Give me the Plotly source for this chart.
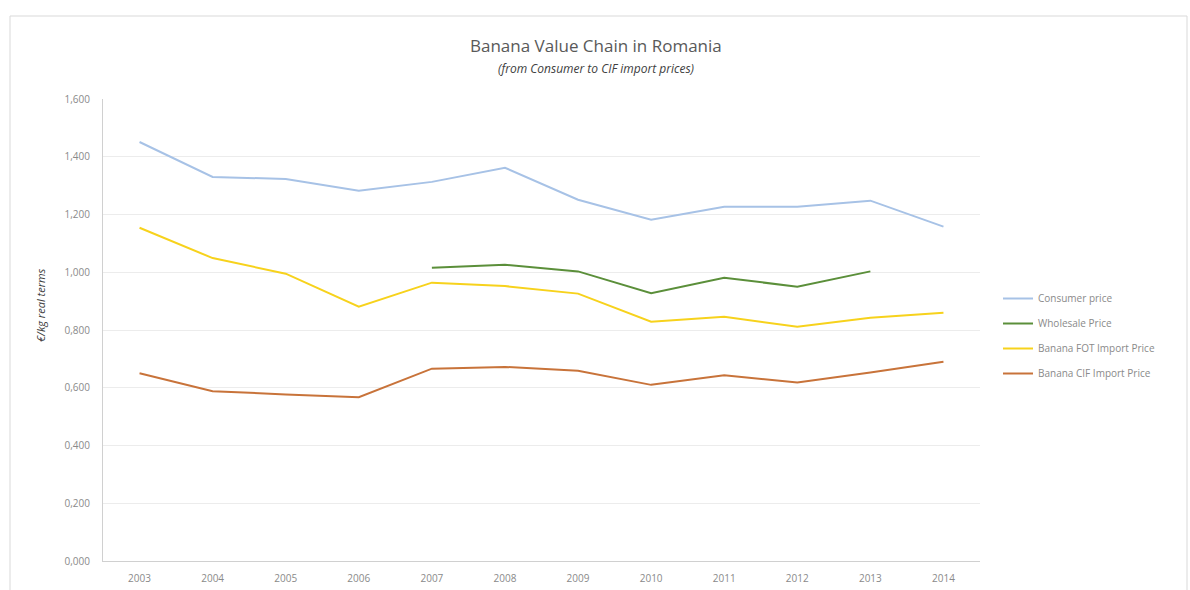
import plotly.graph_objects as go

years = ["2003", "2004", "2005", "2006", "2007", "2008",
         "2009", "2010", "2011", "2012", "2013", "2014"]

consumer_price = [1.451, 1.330, 1.323, 1.282, 1.313, 1.362,
                  1.251, 1.182, 1.227, 1.227, 1.248, 1.158]
wholesale_price = [None, None, None, None, 1.016, 1.026,
                   1.003, 0.927, 0.981, 0.950, 1.003, None]
fot_import_price = [1.154, 1.049, 0.995, 0.881, 0.964, 0.952,
                    0.926, 0.829, 0.846, 0.811, 0.842, 0.860]
cif_import_price = [0.650, 0.588, 0.577, 0.567, 0.666, 0.672,
                    0.659, 0.610, 0.643, 0.618, 0.653, 0.690]

y_ticks = [0, 0.2, 0.4, 0.6, 0.8, 1.0, 1.2, 1.4, 1.6]

series = [
    ("Consumer price", consumer_price, "#a7c2e6"),
    ("Wholesale Price", wholesale_price, "#5b8f3a"),
    ("Banana FOT Import Price", fot_import_price, "#f7d21c"),
    ("Banana CIF Import Price", cif_import_price, "#c8733a"),
]

fig = go.Figure()
for name, values, color in series:
    fig.add_trace(go.Scatter(
        x=years, y=values, name=name, mode="lines",
        legendgroup=name,
        line=dict(color=color, width=2),
        connectgaps=False,
    ))

W, H = 1190, 590
L, R, T, B = 103, 210, 99, 29
pw, ph = W - L - R, H - T - B


def px_x(p):
    return (p - L) / pw


def px_y(p):
    return (H - B - p) / ph


fig.update_layout(
    width=W, height=H,
    margin=dict(l=L, r=R, t=T, b=B, autoexpand=False),
    paper_bgcolor="white", plot_bgcolor="white",
    separators=",.",
    font=dict(family="Open Sans, Liberation Sans, sans-serif", color="#8a8a8a", size=10),
    showlegend=True,
    legend=dict(
        x=px_x(998), y=px_y(284), xanchor="left", yanchor="top",
        font=dict(size=10, color="#8a8a8a"),
        tracegroupgap=6, itemwidth=30,
        bgcolor="rgba(0,0,0,0)",
    ),
    xaxis=dict(
        type="category", range=[-0.5, 11.5], showgrid=False,
        showline=True, linecolor="#d0d0d0", linewidth=1,
        ticks="", ticklabelstandoff=8, automargin=False,
        tickfont=dict(size=10, color="#8a8a8a"),
        zeroline=False, fixedrange=True,
    ),
    yaxis=dict(
        range=[0, 1.6], tickvals=y_ticks, tickformat=".3f",
        showgrid=True, gridcolor="#ececec", gridwidth=1,
        showline=True, linecolor="#d0d0d0", linewidth=1,
        zeroline=False, ticks="", ticklabelstandoff=10, automargin=False,
        tickfont=dict(size=10, color="#8a8a8a"),
    ),
    shapes=[dict(
        type="rect", xref="paper", yref="paper",
        x0=px_x(10), x1=px_x(1187), y0=px_y(600), y1=px_y(16),
        line=dict(color="#d9d9d9", width=1), fillcolor="rgba(0,0,0,0)",
        layer="below",
    )],
    annotations=[
        dict(text="Banana Value Chain in Romania", xref="paper", yref="paper",
             x=px_x(596), y=px_y(45), xanchor="center", yanchor="middle",
             showarrow=False, font=dict(size=17, color="#595959")),
        dict(text="<i>(from Consumer to CIF import prices)</i>", xref="paper", yref="paper",
             x=px_x(596), y=px_y(68), xanchor="center", yanchor="middle",
             showarrow=False, font=dict(size=12, color="#404040")),
        dict(text="<i>€/kg real terms</i>", xref="paper", yref="paper",
             x=px_x(40), y=px_y(305), xanchor="center", yanchor="middle",
             textangle=-90, showarrow=False, font=dict(size=11, color="#404040")),
    ],
)

fig.write_html("out.html")
